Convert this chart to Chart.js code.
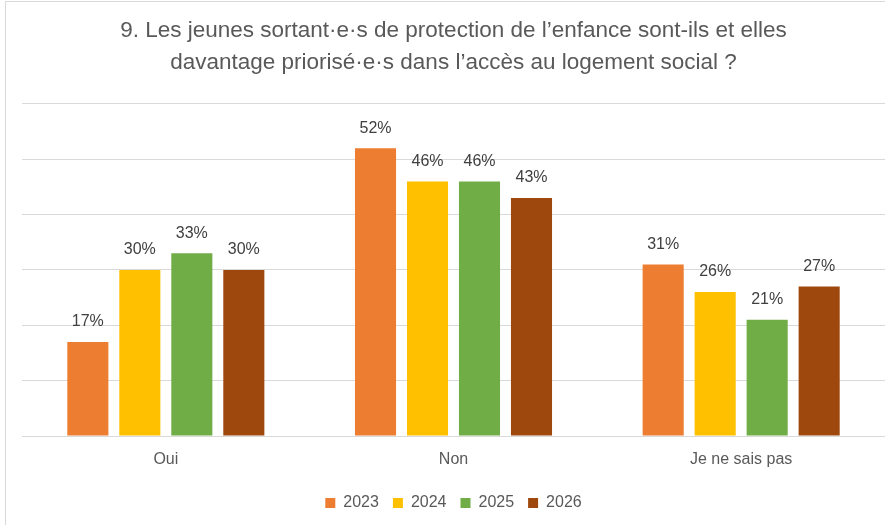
<!DOCTYPE html>
<html>
<head>
    <meta charset="utf-8">
    <title>Logement social</title>
    <script src="https://cdn.jsdelivr.net/npm/chart.js@4.4.1/dist/chart.umd.min.js"></script>
    <style>
        html, body { margin: 0; padding: 0; background: #fff; }
        #wrap { width: 885px; height: 525px; }
    </style>
</head>
<body>
<div id="wrap"><canvas id="chart" width="885" height="525"></canvas></div>
<script>
    // categories and series
    var categories = ["Oui", "Non", "Je ne sais pas"];
    var years = ["2023", "2024", "2025", "2026"];
    var values2023 = [17, 52, 31];
    var values2024 = [30, 46, 26];
    var values2025 = [33, 46, 21];
    var values2026 = [30, 43, 27];
    var colors = ["#ED7D31", "#FFC000", "#70AD47", "#9E480E"];
    var titleLines = [
        "9. Les jeunes sortant\u00b7e\u00b7s de protection de l\u2019enfance sont-ils et elles",
        "davantage prioris\u00e9\u00b7e\u00b7s dans l\u2019acc\u00e8s au logement social ?"
    ];

    var allValues = [values2023, values2024, values2025, values2026];
    var textColor = "#595959";
    var fontFamily = "'Liberation Sans', Arial, sans-serif";

    // value labels above bars
    var barLabels = {
        id: 'barLabels',
        afterDatasetsDraw(chart) {
            var ctx = chart.ctx;
            ctx.save();
            ctx.font = "16px " + fontFamily;
            ctx.fillStyle = "#404040";
            ctx.textAlign = "center";
            ctx.textBaseline = "middle";
            chart.data.datasets.forEach(function (ds, i) {
                chart.getDatasetMeta(i).data.forEach(function (bar, j) {
                    ctx.fillText(ds.data[j] + "%", bar.x, bar.y - 20);
                });
            });
            ctx.restore();
        }
    };

    // light frame on top and left like the original picture
    var frame = {
        id: 'frame',
        beforeDraw(chart) {
            var ctx = chart.ctx;
            ctx.save();
            ctx.strokeStyle = "#d9d9d9";
            ctx.lineWidth = 1;
            ctx.strokeRect(5.5, 1.5, 1000, 1000);
            ctx.restore();
        }
    };

    var ctx = document.getElementById('chart').getContext('2d');
    new Chart(ctx, {
        type: 'bar',
        data: {
            labels: categories,
            datasets: years.map(function (y, i) {
                return {
                    label: y,
                    data: allValues[i],
                    backgroundColor: colors[i],
                    categoryPercentage: 0.723,
                    barPercentage: 0.79
                };
            })
        },
        options: {
            responsive: false,
            animation: false,
            layout: { padding: { left: 22, right: 0, top: 0, bottom: 4 } },
            plugins: {
                title: {
                    display: true,
                    text: titleLines,
                    color: textColor,
                    font: { family: fontFamily, size: 22.5, weight: 'normal', lineHeight: 1.42 },
                    padding: { top: 15, bottom: 25 }
                },
                legend: {
                    position: 'bottom',
                    labels: {
                        color: textColor,
                        boxWidth: 10,
                        boxHeight: 10,
                        padding: 14,
                        font: { family: fontFamily, size: 16 }
                    }
                },
                tooltip: { enabled: false }
            },
            scales: {
                x: {
                    grid: { display: false, drawTicks: false },
                    border: { display: false },
                    ticks: {
                        color: textColor,
                        padding: 14,
                        font: { family: fontFamily, size: 16 }
                    },
                    afterFit: function (scale) { scale.height = 45; }
                },
                y: {
                    min: 0,
                    max: 60,
                    ticks: { display: false, stepSize: 10 },
                    grid: { color: "#d9d9d9", drawTicks: false },
                    border: { display: false }
                }
            }
        },
        plugins: [barLabels, frame]
    });
</script>
</body>
</html>
